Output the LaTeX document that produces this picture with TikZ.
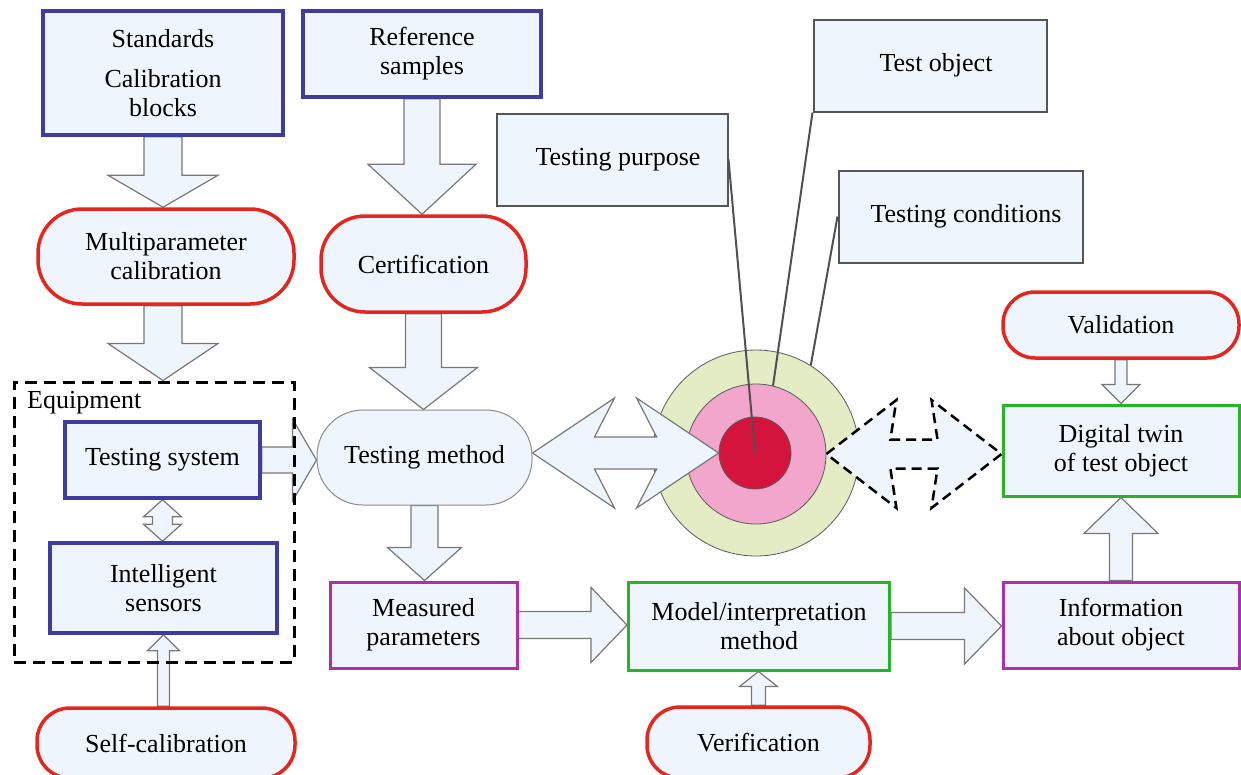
\documentclass[tikz,border=0pt]{standalone}
\usepackage{fontspec}
\setmainfont{Liberation Serif}
\usetikzlibrary{calc,backgrounds}
\definecolor{boxfill}{RGB}{238,245,252}
\definecolor{blueb}{RGB}{62,60,160}
\definecolor{redb}{RGB}{228,38,30}
\definecolor{greenb}{RGB}{40,180,40}
\definecolor{purpb}{RGB}{175,45,175}
\definecolor{grayb}{RGB}{85,85,85}
\definecolor{pillgray}{RGB}{140,140,140}
\definecolor{arrowgray}{RGB}{120,120,120}
\definecolor{ringgreen}{RGB}{228,236,198}
\definecolor{ringpink}{RGB}{242,166,204}
\definecolor{ringred}{RGB}{212,20,60}
\definecolor{ringline}{RGB}{90,90,90}
\definecolor{pointerc}{RGB}{80,80,80}
\tikzset{
  base/.style={font=\fontsize{26}{29}\selectfont, align=center, inner sep=0pt, fill=boxfill},
  bluebox/.style={base, draw=blueb, line width=3.5pt},
  redpill/.style={base, draw=redb, line width=3.5pt},
  greenbox/.style={base, draw=greenb, line width=3pt},
  purpbox/.style={base, draw=purpb, line width=3pt},
  graybox/.style={base, draw=grayb, line width=2pt},
  blockarrow/.style={draw=arrowgray, fill=boxfill, line width=1.2pt, line join=miter},
  dasharrow/.style={draw=black, fill=boxfill, line width=2.5pt, dash pattern=on 10pt off 6pt},
  ring/.style={circle, draw=ringline, line width=0.8pt, inner sep=0pt},
  pointer/.style={draw=pointerc, line width=2pt},
}
% single block arrow: style, from, to, shaft half width, head half width, head length
\newcommand\singlearrow[6][blockarrow]{%
  \coordinate (nk) at ($(#3)!#6!(#2)$);
  \path[#1] ($(#2)!#4!90:(#3)$) -- ($(nk)!#4!90:(#3)$) -- ($(nk)!#5!90:(#3)$) -- (#3)
    -- ($(nk)!#5!-90:(#3)$) -- ($(nk)!#4!-90:(#3)$) -- ($(#2)!#4!-90:(#3)$) -- cycle;}
% double block arrow: style, A, B, shaft half, head half, barb length, notch length
\newcommand\doublearrow[7][blockarrow]{%
  \coordinate (dab) at ($(#2)!#6!(#3)$);
  \coordinate (dan) at ($(#2)!#7!(#3)$);
  \coordinate (dbb) at ($(#3)!#6!(#2)$);
  \coordinate (dbn) at ($(#3)!#7!(#2)$);
  \path[#1] (#2) -- ($(dab)!#5!90:(#3)$) -- ($(dan)!#4!90:(#3)$) -- ($(dbn)!#4!90:(#3)$)
    -- ($(dbb)!#5!90:(#3)$) -- (#3) -- ($(dbb)!#5!-90:(#3)$) -- ($(dbn)!#4!-90:(#3)$)
    -- ($(dan)!#4!-90:(#3)$) -- ($(dab)!#5!-90:(#3)$) -- cycle;}
\begin{document}
\begin{tikzpicture}[x=1pt,y=-1pt]
\useasboundingbox (0,0) rectangle (1241,774);
% boxes
\node[bluebox, minimum width=240pt, minimum height=124pt] (std) at (163,73) {Standards\\[11pt]Calibration\\blocks};
\node[bluebox, minimum width=238pt, minimum height=86pt] (ref) at (422,54) {Reference\\samples};
\node[graybox, minimum width=233pt, minimum height=92pt] (testobj) at (930,65.5) {\hspace*{12pt}Test object};
\node[graybox, minimum width=231pt, minimum height=92pt] (purpose) at (612,159.5) {\hspace*{12pt}Testing purpose};
\node[graybox, minimum width=244pt, minimum height=92pt] (cond) at (960.5,216.5) {\hspace*{11pt}Testing conditions};
\node[redpill, rounded corners=44pt, minimum width=256pt, minimum height=95pt] (multi) at (166,256.5) {Multiparameter\\calibration};
\node[redpill, rounded corners=44pt, minimum width=205pt, minimum height=96pt] (cert) at (423.5,264) {Certification};
\node[redpill, rounded corners=32pt, minimum width=236pt, minimum height=66pt] (valid) at (1121,325) {Validation};
\node[bluebox, minimum width=195pt, minimum height=76pt] (tsys) at (162.5,460) {Testing system};
\node[bluebox, minimum width=227pt, minimum height=90pt] (isens) at (163.5,588) {Intelligent\\sensors};
\node[base, draw=pillgray, line width=1pt, rounded corners=46pt, minimum width=215pt, minimum height=95pt] (tmeth) at (424.5,457.5) {Testing method};
\node[greenbox, minimum width=236pt, minimum height=91pt] (twin) at (1121,450.5) {Digital twin\\of test object};
\node[purpbox, minimum width=187pt, minimum height=86pt] (meas) at (423.5,625) {Measured\\parameters};
\node[greenbox, minimum width=261pt, minimum height=88pt] (model) at (759,626) {Model/interpretation\\method};
\node[purpbox, minimum width=236pt, minimum height=86pt] (info) at (1121,625) {Information\\about object};
\node[redpill, rounded corners=33pt, minimum width=258pt, minimum height=70pt] (selfcal) at (166,743) {Self-calibration};
\node[redpill, rounded corners=33pt, minimum width=223pt, minimum height=71pt] (verif) at (758.5,742.5) {Verification};
% equipment frame
\node[draw=black, line width=3pt, dash pattern=on 12pt off 7pt, minimum width=280pt, minimum height=280pt, inner sep=0pt] (equip) at (154,522) {};
\node[font=\fontsize{26}{29}\selectfont, anchor=west, inner sep=0pt] (eqlbl) at (27,403) {Equipment};
\begin{scope}[on background layer]
  % target circles
  \node[ring, fill=ringgreen, minimum size=206pt] (outer) at (756,453) {};
  \node[ring, fill=ringpink, minimum size=140pt] (mid) at (756,454) {};
  \node[ring, fill=ringred, minimum size=72pt] (core) at (755,453) {};
  % block arrows
  \coordinate (a1s) at (std.south); \coordinate (a1e) at (std.south |- multi.north);
  \singlearrow{a1s}{a1e}{19pt}{55pt}{32pt}
  \coordinate (a2s) at (ref.south); \coordinate (a2e) at (ref.south |- cert.north);
  \singlearrow{a2s}{a2e}{18pt}{54pt}{50pt}
  \coordinate (a3s) at (std.south |- multi.south); \coordinate (a3e) at (std.south |- equip.north);
  \singlearrow{a3s}{a3e}{19pt}{55pt}{37pt}
  \coordinate (a4s) at (cert.south); \coordinate (a4e) at (cert.south |- tmeth.north);
  \singlearrow{a4s}{a4e}{18pt}{54pt}{42pt}
  \coordinate (a5s) at (tsys.east); \coordinate (a5e) at (tsys.east -| tmeth.west);
  \singlearrow{a5s}{a5e}{13pt}{41pt}{24pt}
  \coordinate (a6s) at (tmeth.south); \coordinate (a6e) at (tmeth.south |- meas.north);
  \singlearrow{a6s}{a6e}{13.5pt}{37pt}{33pt}
  \coordinate (a7s) at (meas.east); \coordinate (a7e) at (meas.east -| model.west);
  \singlearrow{a7s}{a7e}{13.5pt}{37.5pt}{36pt}
  \coordinate (a8s) at (model.east); \coordinate (a8e) at (model.east -| info.west);
  \singlearrow{a8s}{a8e}{13.5pt}{38pt}{37pt}
  \coordinate (a9s) at (info.north); \coordinate (a9e) at (info.north |- twin.south);
  \singlearrow{a9s}{a9e}{11.5pt}{37pt}{36pt}
  \coordinate (a10s) at (valid.south); \coordinate (a10e) at (valid.south |- twin.north);
  \singlearrow{a10s}{a10e}{6pt}{19pt}{19pt}
  \coordinate (a11s) at (verif.north); \coordinate (a11e) at (verif.north |- model.south);
  \singlearrow{a11s}{a11e}{7pt}{19pt}{15pt}
  \coordinate (a12s) at (isens.south |- selfcal.north); \coordinate (a12e) at (isens.south);
  \singlearrow{a12s}{a12e}{6pt}{16pt}{16pt}
  \coordinate (a13s) at (tsys.south); \coordinate (a13e) at (tsys.south |- isens.north);
  \doublearrow{a13s}{a13e}{10pt}{19pt}{17pt}{17pt}
  \coordinate (a14s) at (core.west -| tmeth.east); \coordinate (a14e) at (core.west);
  \doublearrow{a14s}{a14e}{16pt}{55pt}{82pt}{62pt}
  \coordinate (a15s) at (mid.east); \coordinate (a15e) at (mid.east -| twin.west);
  \doublearrow[dasharrow]{a15s}{a15e}{14.5pt}{54pt}{70pt}{64pt}
\end{scope}
% pointer lines
\draw[pointer] (purpose.east) -- (core.center);
\draw[pointer] (testobj.south west) -- (mid.76);
\draw[pointer] (cond.west) -- (outer.58);
\end{tikzpicture}
\end{document}
